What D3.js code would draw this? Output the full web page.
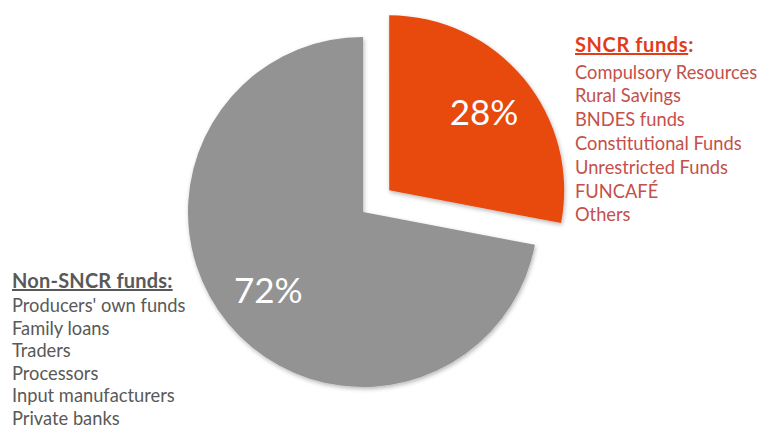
<!DOCTYPE html>
<html>
<head>
<meta charset="utf-8">
<script src="https://cdn.jsdelivr.net/npm/d3@7"></script>
<style>
  html, body { margin: 0; padding: 0; background: #fff; }
  svg { display: block; }
  text { font-family: Lato, "Open Sans", sans-serif; }
</style>
</head>
<body>
<svg id="chart" width="759" height="431"></svg>
<script>
// ---- data ----
const categories = ["SNCR funds", "Non-SNCR funds"];
const values = [28, 72];
const valueLabels = ["28%", "72%"];
const sncrItems = ["Compulsory Resources", "Rural Savings", "BNDES funds", "Constitutional Funds", "Unrestricted Funds", "FUNCAFÉ", "Others"];
const nonSncrItems = ["Producers' own funds", "Family loans", "Traders", "Processors", "Input manufacturers", "Private banks"];

// ---- styling ----
const sliceColors = ["#E84A10", "#939393"];
const cx = 363, cy = 212, R = 175, explode = 34, labelR = 123;

const svg = d3.select("#chart");
const defs = svg.append("defs");
const f = defs.append("filter").attr("id", "shadow").attr("x", "-10%").attr("y", "-10%").attr("width", "120%").attr("height", "120%");
f.append("feDropShadow").attr("dx", 1).attr("dy", 2).attr("stdDeviation", 2).attr("flood-color", "#000").attr("flood-opacity", 0.28);

const data = categories.map((c, i) => ({ name: c, value: values[i], label: valueLabels[i], color: sliceColors[i], exploded: i === 0 }));

const pie = d3.pie().sort(null).value(d => d.value).startAngle(0).endAngle(2 * Math.PI);
const arc = d3.arc().innerRadius(0).outerRadius(R);
const labelArc = d3.arc().innerRadius(labelR).outerRadius(labelR);

const g = svg.append("g").attr("transform", `translate(${cx},${cy})`);
const arcs = pie(data);

const slice = g.selectAll("g.slice").data(arcs).join("g")
  .attr("class", "slice")
  .attr("transform", d => {
    if (!d.data.exploded) return null;
    const a = (d.startAngle + d.endAngle) / 2;
    return `translate(${explode * Math.sin(a)},${-explode * Math.cos(a)})`;
  });

slice.append("path")
  .attr("d", arc)
  .attr("fill", d => d.data.color)
  .attr("filter", "url(#shadow)");

slice.append("text")
  .attr("transform", d => `translate(${labelArc.centroid(d)})`)
  .attr("text-anchor", "middle")
  .attr("dy", "0.36em")
  .attr("fill", "#fff")
  .style("font-size", "35px")
  .text(d => d.data.label);

// SNCR block
const sncrTitle = svg.append("text")
  .attr("x", 575).attr("y", 52)
  .attr("fill", "#E23C1A")
  .style("font-size", "20px").style("font-weight", "bold").style("letter-spacing", "0.6px");
sncrTitle.append("tspan").style("text-decoration", "underline").text(categories[0]);
sncrTitle.append("tspan").text(":");

svg.append("g").selectAll("text").data(sncrItems).join("text")
  .attr("x", 575)
  .attr("y", (d, i) => 78.5 + i * 23.8)
  .attr("fill", "#C4504A")
  .style("font-size", "18.3px")
  .text(d => d);

// Non-SNCR block
const nonTitle = svg.append("text")
  .attr("x", 12).attr("y", 288)
  .attr("fill", "#595959")
  .style("font-size", "20px").style("font-weight", "bold").style("letter-spacing", "0.2px");
nonTitle.append("tspan").style("text-decoration", "underline").text(categories[1] + ":");

svg.append("g").selectAll("text").data(nonSncrItems).join("text")
  .attr("x", 12)
  .attr("y", (d, i) => 312 + i * 22.6)
  .attr("fill", "#595959")
  .style("font-size", "18.3px")
  .text(d => d);
</script>
</body>
</html>
